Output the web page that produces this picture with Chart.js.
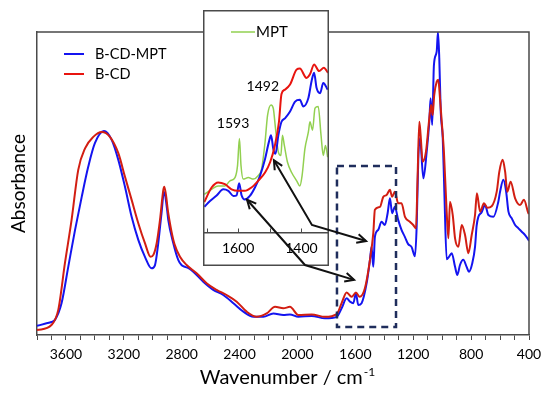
<!DOCTYPE html>
<html>
<head>
<meta charset="utf-8">
<script src="https://cdn.jsdelivr.net/npm/chart.js@4.4.0/dist/chart.umd.min.js"></script>
<style>
  html, body { margin:0; padding:0; background:#fff; }
  #wrap { position:relative; width:550px; height:394px; }
  #main { position:absolute; left:0; top:0; }
  #inset { position:absolute; left:203px; top:10px; }
  #over { position:absolute; left:0; top:0; pointer-events:none; }
</style>
</head>
<body>
<div id="wrap">
  <canvas id="main" width="550" height="394"></canvas>
  <canvas id="inset" width="126" height="256"></canvas>
  <canvas id="over" width="550" height="394"></canvas>
</div>
<script>
// main spectra (wavenumber cm-1 / absorbance, arbitrary units 0-100)
const mptWn  = [3800,3740,3700,3676,3630,3584,3537,3491,3446,3400,3337,3284,3238,3192,3146,3100,3054,3008,2985,2962,2940,2922,2900,2893,2858,2824,2800,2777,2750,2720,2651,2582,2513,2443,2374,2305,2236,2167,2098,2052,1994,1902,1810,1729,1695,1660,1637,1614,1596,1580,1557,1522,1499,1488,1476,1465,1442,1419,1396,1377,1361,1346,1327,1304,1281,1258,1235,1211,1188,1176,1165,1153,1130,1107,1089,1080,1069,1057,1038,1029,1020,1010,996,985,969,953,934,911,895,877,854,831,815,792,773,762,750,727,704,681,646,612,600,577,558,542,519,496,473,450,427,404,400];
const mptAbs = [3.0,3.8,4.3,5.0,10.6,22.5,34.7,45.6,55.5,63.3,67.3,64.4,57.8,48.9,39,31.4,25.8,22,23,30.3,40,47.3,41,38,30.3,24.8,23,22.5,22,20.9,17.6,14.9,13.2,10.5,7.7,6,6,7.1,6.6,6.8,6,6.3,5.5,6,8.8,12.1,11,10.5,13.8,9.9,10.5,17.1,24.8,29.1,22.5,32.4,34.7,37.4,36.3,40.2,45.1,40.2,42.3,38,34.7,32.4,30,29,26,36.3,58.3,64.9,51.7,60.5,70.4,78.1,69.3,89.1,93.5,100,91.3,73.7,64.9,47.3,25,25.8,27,22.5,19.8,23.1,24.8,22.5,20.9,23.7,29.1,36,39,40.5,42.9,39.6,39,44,47.3,51.2,47.3,40.7,38.5,36.3,35.2,34.1,33,31.4,31];

const cdWn  = [3800,3700,3653,3607,3561,3515,3468,3411,3353,3296,3238,3192,3146,3100,3054,3015,2995,2973,2950,2927,2920,2893,2870,2850,2812,2766,2697,2628,2559,2490,2420,2351,2282,2213,2155,2098,2052,1994,1902,1810,1729,1695,1660,1626,1596,1570,1534,1499,1476,1465,1430,1407,1384,1361,1346,1327,1304,1281,1257,1223,1200,1181,1170,1158,1149,1135,1112,1089,1077,1066,1055,1038,1027,1015,1003,988,969,957,946,927,911,888,865,842,819,796,773,760,738,711,688,658,623,605,582,565,550,527,496,462,435,404,400];
const cdAbs = [1.6,3.3,8.3,23.7,38,54.5,61.6,65.4,67,65.4,60,52.2,44.6,36.9,30.3,25.8,26.5,30.3,38,47.9,48.9,40.2,34,30,25.8,23.1,20.4,17.1,14.9,13.2,11,7.7,6,7.1,9.3,8.8,9.3,6.6,6.8,6,6.9,10.5,14,12.6,14,12.6,15.4,24.8,33.6,41.3,42.3,45.6,46.2,47.9,45.6,47.3,43.5,43.5,39,37.4,36.3,35.2,52,70.4,66,57.2,60.5,71.5,75.9,72.6,79.2,83.6,84.2,78.1,70.4,60.5,40.7,31.9,44,39.6,31.9,29.1,36.3,33,27,33,39.6,46.8,40.7,43.5,42,42.5,47.3,53.9,57.8,53.9,47.3,50.6,45.1,42.9,44.6,40.2,40];

// inset, 1710-1315 cm-1
const inMptWn  = [1707,1689,1668,1647,1631,1615,1605,1597,1589,1579,1563,1547,1531,1515,1503,1496,1489,1482,1473,1463,1452,1436,1420,1405,1394,1378,1368,1360,1352,1341,1331,1317];
const inMptAbs = [11.6,14.2,16.7,19.5,18.8,16.5,16.8,22.2,16.7,14.9,16.5,20.3,25.6,33.2,40.8,43.9,37.8,35.5,43.9,50,51.5,54.6,59.1,59.9,56.9,60.7,68.3,72.1,65.2,62.9,67.5,64.5];
const inCdWn  = [1707,1684,1663,1642,1621,1600,1579,1558,1537,1515,1499,1484,1471,1463,1452,1436,1415,1405,1384,1373,1360,1344,1329,1316];
const inCdAbs = [13.7,20.3,22.6,21.8,19.5,18.8,18.8,20.3,23.3,27.1,31.7,39.3,50,62.5,64.5,66.8,73.6,74,69.8,71.4,75.9,72.9,74.4,72.1];
const pureWn  = [1707,1684,1663,1642,1626,1610,1602,1596,1591,1584,1568,1552,1537,1526,1515,1507,1496,1489,1482,1473,1465,1460,1454,1444,1431,1415,1405,1398,1389,1378,1373,1365,1357,1347,1338,1331,1324,1317];
const pureAbs = [17.2,19.5,21,21,23.3,24.8,30.2,42.4,30.2,24.1,24.8,24.1,25.6,28.6,40.8,53,57.6,56.1,47,36.3,34.8,43.9,39.3,31.7,27.1,23.3,21,25.6,37.8,45.4,50,46.2,56.1,56.9,43.9,34.8,39.3,34];

const xTicksMain = [3600,3200,2800,2400,2000,1600,1200,800,400];
const xTicksInset = [1600,1400];
const peakLabels = [{text:'1593', x:1616, y:49}, {text:'1492', x:1522, y:66}];
// dashed box in main chart (data units)
const zoomBox = {x0:1727, x1:1319, y0:55.8, y1:2.6};
// arrows: inset point -> bend (main units) -> main point
const arrows = [
  {from:[1487,32.6], bend:[1900,36.3], to:[1526,31]},
  {from:[1572,14.8], bend:[1948,23.1], to:[1609,18.2]}
];

const BLUE = '#1414f0';
const RED = '#e8140f';
const RED_MAIN = '#d21e12';
const GREEN = '#92d050';
const AXIS = '#4a4a4a';
const FONT = 'Lato';

function pts(xs, ys) {
  return xs.map((x, i) => ({x: x, y: ys[i]}));
}

// minor ticks every 100 cm-1, rounded so floating noise doesn't drop them
function hundreds(s) {
  const lo = Math.ceil(s.min / 100), hi = Math.floor(s.max / 100);
  const t = [];
  for (let k = lo; k <= hi; k++) t.push({value: k * 100});
  s.ticks = t;
}

const mainPlugin = {
  id: 'mainDeco',
  afterDatasetsDraw(chart) {
    const {ctx, chartArea: a, scales: {x, y}} = chart;
    ctx.save();
    // dashed box
    ctx.strokeStyle = '#1f2d5c';
    ctx.lineWidth = 2.5;
    ctx.setLineDash([7, 5]);
    const bx0 = x.getPixelForValue(zoomBox.x0), bx1 = x.getPixelForValue(zoomBox.x1);
    const by0 = y.getPixelForValue(zoomBox.y0), by1 = y.getPixelForValue(zoomBox.y1);
    ctx.strokeRect(bx0, by0, bx1 - bx0, by1 - by0);
    ctx.setLineDash([]);
    // legend
    ctx.font = '14.5px ' + FONT;
    ctx.textBaseline = 'middle';
    const legendCols = [BLUE, RED];
    chart.data.datasets.forEach((ds, i) => {
      const ly = a.top + 22 + i * 20;
      ctx.strokeStyle = legendCols[i];
      ctx.lineWidth = 2;
      ctx.beginPath();
      ctx.moveTo(a.left + 27, ly);
      ctx.lineTo(a.left + 47, ly);
      ctx.stroke();
      ctx.fillStyle = '#000';
      ctx.fillText(ds.label, a.left + 58, ly);
    });
    // frame top/right
    ctx.strokeStyle = AXIS;
    ctx.lineWidth = 1.5;
    ctx.beginPath();
    ctx.moveTo(a.left, a.top);
    ctx.lineTo(a.right, a.top);
    ctx.lineTo(a.right, a.bottom);
    ctx.stroke();
    ctx.restore();
  },
  afterDraw(chart) {
    const {ctx, chartArea: a} = chart;
    ctx.save();
    ctx.fillStyle = '#000';
    ctx.textBaseline = 'alphabetic';
    ctx.font = '20px ' + FONT;
    const main = 'Wavenumber / cm';
    const sup = '-1';
    const w1 = ctx.measureText(main).width;
    ctx.font = '12px ' + FONT;
    const w2 = ctx.measureText(sup).width;
    const sx = (a.left + a.right) / 2 + 4 - (w1 + w2) / 2;
    ctx.font = '20px ' + FONT;
    ctx.fillText(main, sx, 384);
    ctx.font = '12px ' + FONT;
    ctx.fillText(sup, sx + w1 + 1, 376);
    ctx.restore();
  }
};

const mainChart = new Chart(document.getElementById('main'), {
  type: 'line',
  data: {
    datasets: [
      {label: 'B-CD-MPT', data: pts(mptWn, mptAbs), borderColor: BLUE, borderWidth: 2, pointRadius: 0, cubicInterpolationMode: 'monotone', order: 2},
      {label: 'B-CD', data: pts(cdWn, cdAbs), borderColor: RED_MAIN, borderWidth: 2, pointRadius: 0, cubicInterpolationMode: 'monotone', order: 1}
    ]
  },
  options: {
    responsive: false,
    animation: false,
    layout: {padding: {top: 32, right: 21, left: 0, bottom: 0}},
    plugins: {legend: {display: false}, tooltip: {enabled: false}},
    scales: {
      x: {
        type: 'linear', reverse: true, min: 400, max: 3800,
        afterBuildTicks: hundreds,
        afterFit: s => { s.height = 59; },
        ticks: {autoSkip: false, maxRotation: 0, padding: 6, color: '#000',
                font: {family: FONT, size: 14},
                callback: v => xTicksMain.includes(v) ? String(v) : ''},
        grid: {drawOnChartArea: false, drawTicks: true, tickLength: 5, color: AXIS},
        border: {display: true, color: AXIS, width: 1.5}
      },
      y: {
        min: 0, max: 100,
        afterFit: s => { s.width = 37; },
        ticks: {display: false},
        grid: {display: false},
        border: {display: true, color: AXIS, width: 1.5},
        title: {display: true, text: 'Absorbance', color: '#000', font: {family: FONT, size: 19}, padding: {top: 7, bottom: 0}}
      }
    }
  },
  plugins: [mainPlugin]
});

const insetPlugin = {
  id: 'insetDeco',
  beforeDraw(chart) {
    const ctx = chart.ctx;
    ctx.save();
    ctx.fillStyle = '#fff';
    ctx.fillRect(0, 0, chart.width, chart.height);
    ctx.restore();
  },
  afterDraw(chart) {
    const {ctx, chartArea: a, scales: {x, y}} = chart;
    ctx.save();
    // inward tick marks
    ctx.strokeStyle = AXIS;
    ctx.lineWidth = 1;
    x.ticks.forEach(t => {
      const px = Math.round(x.getPixelForValue(t.value)) + 0.5;
      ctx.beginPath();
      ctx.moveTo(px, a.bottom);
      ctx.lineTo(px, a.bottom - 4);
      ctx.stroke();
    });
    ctx.fillStyle = '#000';
    ctx.font = '14px ' + FONT;
    ctx.textAlign = 'center';
    ctx.textBaseline = 'middle';
    peakLabels.forEach(p => ctx.fillText(p.text, x.getPixelForValue(p.x), y.getPixelForValue(p.y)));
    // legend for MPT
    const ds = chart.data.datasets[0];
    ctx.strokeStyle = ds.borderColor;
    ctx.lineWidth = 1.5;
    ctx.beginPath();
    ctx.moveTo(28, 22);
    ctx.lineTo(52, 22);
    ctx.stroke();
    ctx.textAlign = 'left';
    ctx.font = '15px ' + FONT;
    ctx.fillText(ds.label, 53, 22);
    // box
    ctx.strokeStyle = AXIS;
    ctx.lineWidth = 1.5;
    ctx.strokeRect(0.75, 0.75, chart.width - 1.5, chart.height - 1.5);
    ctx.restore();
  }
};

const insetChart = new Chart(document.getElementById('inset'), {
  type: 'line',
  data: {
    datasets: [
      {label: 'MPT', data: pts(pureWn, pureAbs), borderColor: GREEN, borderWidth: 1.5, pointRadius: 0, cubicInterpolationMode: 'monotone', order: 3},
      {label: 'B-CD-MPT', data: pts(inMptWn, inMptAbs), borderColor: BLUE, borderWidth: 2, pointRadius: 0, cubicInterpolationMode: 'monotone', order: 2},
      {label: 'B-CD', data: pts(inCdWn, inCdAbs), borderColor: RED, borderWidth: 2, pointRadius: 0, cubicInterpolationMode: 'monotone', order: 1}
    ]
  },
  options: {
    responsive: false,
    animation: false,
    layout: {padding: {top: 1, right: 1, left: 1, bottom: 0}},
    plugins: {legend: {display: false}, tooltip: {enabled: false}},
    scales: {
      x: {
        type: 'linear', reverse: true, min: 1316, max: 1708,
        afterBuildTicks: hundreds,
        afterFit: s => { s.height = 33.5; },
        ticks: {autoSkip: false, maxRotation: 0, padding: 8, color: '#000',
                font: {family: FONT, size: 14},
                callback: v => xTicksInset.includes(v) ? String(v) : ''},
        grid: {drawOnChartArea: false, drawTicks: false, color: AXIS},
        border: {display: true, color: AXIS, width: 1.5}
      },
      y: {display: false, min: 0, max: 100}
    }
  },
  plugins: [insetPlugin]
});

// arrows across both charts
(function drawArrows() {
  const ctx = document.getElementById('over').getContext('2d');
  const ix = v => insetChart.scales.x.getPixelForValue(v) + 203;
  const iy = v => insetChart.scales.y.getPixelForValue(v) + 10;
  const mx = v => mainChart.scales.x.getPixelForValue(v);
  const my = v => mainChart.scales.y.getPixelForValue(v);
  function head(px, py, fx, fy) {
    const ang = Math.atan2(py - fy, px - fx);
    const len = 10, spread = 0.45;
    ctx.beginPath();
    ctx.moveTo(px - len * Math.cos(ang - spread), py - len * Math.sin(ang - spread));
    ctx.lineTo(px, py);
    ctx.lineTo(px - len * Math.cos(ang + spread), py - len * Math.sin(ang + spread));
    ctx.stroke();
  }
  ctx.strokeStyle = '#111';
  ctx.lineWidth = 2;
  arrows.forEach(a => {
    const p0 = [ix(a.from[0]), iy(a.from[1])];
    const p1 = [mx(a.bend[0]), my(a.bend[1])];
    const p2 = [mx(a.to[0]), my(a.to[1])];
    ctx.beginPath();
    ctx.moveTo(p0[0], p0[1]);
    ctx.lineTo(p1[0], p1[1]);
    ctx.lineTo(p2[0], p2[1]);
    ctx.stroke();
    head(p0[0], p0[1], p1[0], p1[1]);
    head(p2[0], p2[1], p1[0], p1[1]);
  });
})();
</script>
</body>
</html>
